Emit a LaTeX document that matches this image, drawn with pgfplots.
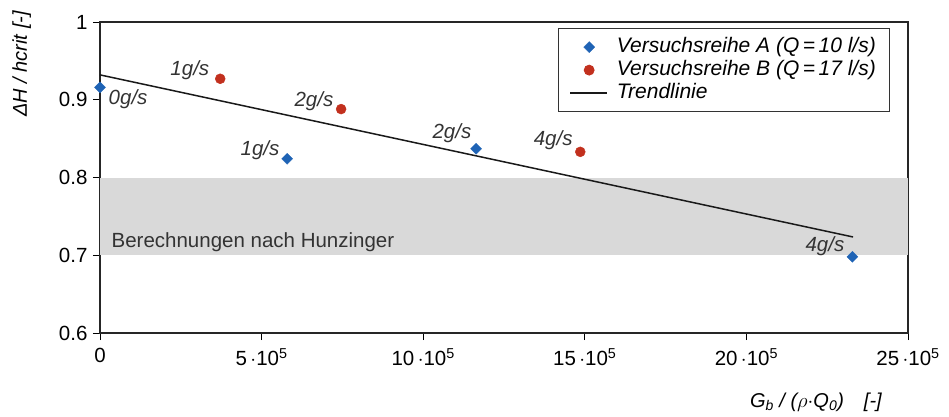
\documentclass[border=0pt]{standalone}
\usepackage{pgfplots}
\pgfplotsset{compat=1.18}
\usepackage{fontspec}
\setmainfont{Liberation Sans}
\definecolor{serA}{HTML}{1F63B5}
\definecolor{serB}{HTML}{C2301E}
\definecolor{band}{HTML}{D9D9D9}
\pgfplotsset{
  markleg/.style={legend image code/.code={\path (0pt,0pt) (37pt,0pt); \draw[##1] plot coordinates {(19pt,0pt)};}},
  lineleg/.style={legend image code/.code={\draw[##1] (0pt,0pt) -- (37pt,0pt);}}
}
\begin{document}
\begin{tikzpicture}[font=\fontsize{20.5}{24}\selectfont]
\begin{axis}[
  at={(0pt,0pt)}, anchor=south west,
  scale only axis, width=808pt, height=311pt,
  xmin=0, xmax=25e5, ymin=0.6, ymax=1,
  xtick={0,5e5,10e5,15e5,20e5,25e5},
  xticklabels={0, 5\,$\cdot$10\textsuperscript{5}, 10\,$\cdot$10\textsuperscript{5}, 15\,$\cdot$10\textsuperscript{5}, 20\,$\cdot$10\textsuperscript{5}, 25\,$\cdot$10\textsuperscript{5}},
  scaled x ticks=false,
  ytick={0.6,0.7,0.8,0.9,1},
  /pgf/number format/assume math mode=true,
  tick align=outside, xtick pos=left, ytick pos=left,
  major tick length=7pt,
  tick style={line width=0.8pt, black},
  axis line style={line width=1.6pt, black!85},
  xticklabel style={yshift=-5pt},
  yticklabel style={xshift=-2pt},
  xlabel={\itshape G\textsubscript{b} / ($\rho\cdot$Q\textsubscript{0})\quad [-]},
  xlabel style={at={(axis description cs:0.886,-0.222)}, anchor=center, font=\fontsize{20}{24}\selectfont},
  ylabel={\itshape ΔH / hcrit [-]},
  ylabel style={at={(axis description cs:-0.097,0.865)}, anchor=center, font=\fontsize{20}{24}\selectfont},
  legend style={at={(axis description cs:0.978,0.98)}, anchor=north east,
    draw=black!80, line width=0.8pt, font=\fontsize{21}{24}\selectfont\itshape,
    row sep=0pt, column sep=6pt, inner xsep=11pt, inner ysep=7pt, cells={anchor=west},
    nodes={text height=15pt, text depth=5pt, inner ysep=1.5pt, inner xsep=3pt}},
  legend cell align=left,
  clip=false,
]
\addplot[draw=none, fill=band, forget plot] coordinates {(0,0.7) (25e5,0.7) (25e5,0.8) (0,0.8)} -- cycle;
\addplot[only marks, mark=square*, mark size=3.9pt, color=serA, mark options={line width=0.3pt, rotate=45}, markleg] coordinates {
 (0,0.916) (5.79e5,0.824) (11.64e5,0.837) (23.28e5,0.698)};
\addlegendentry{Versuchsreihe A (Q\,=\,10 l/s)}
\addplot[only marks, mark=*, mark size=5pt, color=serB, markleg] coordinates {
 (3.72e5,0.927) (7.46e5,0.888) (14.86e5,0.833)};
\addlegendentry{Versuchsreihe B (Q\,=\,17 l/s)}
\addplot[black!90, line width=1.5pt, mark=none, lineleg] coordinates {(0,0.932) (23.3e5,0.7235)};
\addlegendentry{Trendlinie}
\node[anchor=center, text=black!80] at (0.87e5,0.901) {\itshape 0g/s};
\node[anchor=center, text=black!80] at (2.78e5,0.938) {\itshape 1g/s};
\node[anchor=center, text=black!80] at (6.62e5,0.898) {\itshape 2g/s};
\node[anchor=center, text=black!80] at (4.95e5,0.835) {\itshape 1g/s};
\node[anchor=center, text=black!80] at (10.89e5,0.857) {\itshape 2g/s};
\node[anchor=center, text=black!80] at (14.02e5,0.848) {\itshape 4g/s};
\node[anchor=center, text=black!80] at (22.43e5,0.712) {\itshape 4g/s};
\node[anchor=west, text=black!80] at (0.25e5,0.717) {Berechnungen nach Hunzinger};
\end{axis}
\pgfresetboundingbox
\path (-100pt,-83pt) rectangle (849pt,333pt);
\end{tikzpicture}
\end{document}
